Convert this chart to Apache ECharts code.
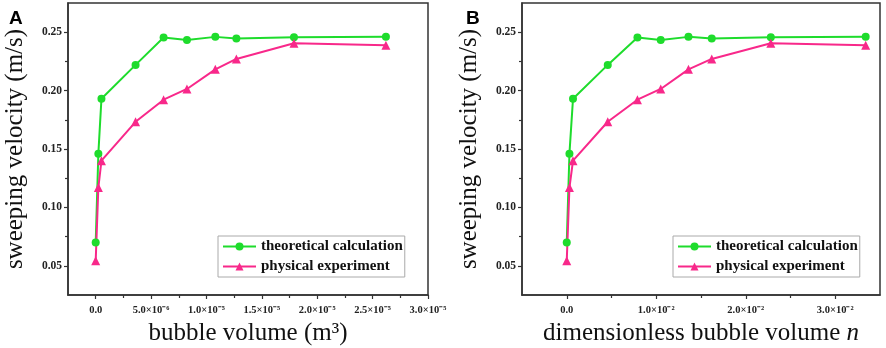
<!DOCTYPE html>
<html>
<head>
<meta charset="utf-8">
<script src="https://cdn.jsdelivr.net/npm/echarts@6/dist/echarts.min.js"></script>
<style>
  html, body { margin: 0; padding: 0; background: #fff; }
  #main { width: 886px; height: 348px; }
</style>
</head>
<body>
<div id="main"></div>
<script>
// data
var volumeA = [0, 2.4e-7, 5.2e-7, 3.6e-6, 6.13e-6, 8.24e-6, 1.08e-5, 1.27e-5, 1.79e-5, 2.62e-5];
var volumeB = [0, 0.0003, 0.0007, 0.00458, 0.0079, 0.0105, 0.0136, 0.0162, 0.0228, 0.0334];
var theoretical = [0.070, 0.146, 0.193, 0.222, 0.2454, 0.2434, 0.246, 0.2446, 0.2457, 0.246];
var experiment = [0.0543, 0.117, 0.140, 0.1733, 0.1922, 0.2014, 0.2182, 0.2271, 0.2406, 0.2388];

var yTicks = [0.05, 0.10, 0.15, 0.20, 0.25];
var yTickLabels = ['0.05', '0.10', '0.15', '0.20', '0.25'];
var yMinor = [0.075, 0.125, 0.175, 0.225];

var xTicksA = [0, 5e-6, 1e-5, 1.5e-5, 2e-5, 2.5e-5, 3e-5];
var xTickLabelsA = ['0.0', '5.0×10⁻⁶', '1.0×10⁻⁵', '1.5×10⁻⁵', '2.0×10⁻⁵', '2.5×10⁻⁵', '3.0×10⁻⁵'];
var xMinorA = [2.5e-6, 7.5e-6, 1.25e-5, 1.75e-5, 2.25e-5, 2.75e-5];

var xTicksB = [0, 0.01, 0.02, 0.03];
var xTickLabelsB = ['0.0', '1.0×10⁻²', '2.0×10⁻²', '3.0×10⁻²'];
var xMinorB = [0.005, 0.015, 0.025];

var green = '#1edc2c';
var pink = '#f8288a';
var axisColor = '#333';
var serif = 'Liberation Serif';

function pairs(xs, ys) {
  return xs.map(function (x, i) { return [x, ys[i]]; });
}

function labelFor(ticks, labels) {
  return function (v) {
    for (var i = 0; i < ticks.length; i++) {
      if (Math.abs(ticks[i] - v) < Math.abs(ticks[1] - ticks[0]) * 1e-3) return labels[i];
    }
    return '';
  };
}

function xMain(gridIndex, min, max, ticks, labels, name) {
  return {
    type: 'value', gridIndex: gridIndex, min: min, max: max, position: 'bottom',
    splitLine: { show: false },
    axisLine: { onZero: false, lineStyle: { color: axisColor, width: 1.5 } },
    axisTick: { customValues: ticks, length: 4, lineStyle: { color: axisColor, width: 1.2 } },
    axisLabel: {
      customValues: ticks, formatter: labelFor(ticks, labels),
      fontFamily: serif, fontWeight: 'bold', fontSize: 10.5, color: '#222', margin: 10
    },
    name: name, nameLocation: 'middle', nameGap: 26,
    nameTextStyle: {
      fontFamily: serif, fontSize: 25, color: '#111',
      rich: { it: { fontFamily: serif, fontSize: 25, fontStyle: 'italic', color: '#111' } }
    }
  };
}

function xMinorAxis(gridIndex, min, max, ticks) {
  return {
    type: 'value', gridIndex: gridIndex, min: min, max: max, position: 'bottom',
    splitLine: { show: false },
    axisLine: { show: false, onZero: false },
    axisTick: { customValues: ticks, length: 3, lineStyle: { color: axisColor, width: 1.2 } },
    axisLabel: { show: false }
  };
}

function yMain(gridIndex) {
  return {
    type: 'value', gridIndex: gridIndex, min: 0.025, max: 0.275, position: 'left',
    splitLine: { show: false },
    axisLine: { onZero: false, lineStyle: { color: axisColor, width: 1.5 } },
    axisTick: { customValues: yTicks, length: 4, lineStyle: { color: axisColor, width: 1.2 } },
    axisLabel: {
      customValues: yTicks, formatter: labelFor(yTicks, yTickLabels),
      fontFamily: serif, fontWeight: 'bold', fontSize: 11.5, color: '#222', margin: 6
    },
    name: 'sweeping velocity (m/s)', nameLocation: 'middle', nameGap: 40,
    nameTextStyle: { fontFamily: serif, fontSize: 25, color: '#111' }
  };
}

function yMinorAxis(gridIndex) {
  return {
    type: 'value', gridIndex: gridIndex, min: 0.025, max: 0.275, position: 'left',
    splitLine: { show: false },
    axisLine: { show: false, onZero: false },
    axisTick: { customValues: yMinor, length: 3, lineStyle: { color: axisColor, width: 1.2 } },
    axisLabel: { show: false }
  };
}

function lineSeries(name, xi, yi, data, color, symbol, size) {
  return {
    name: name, type: 'line', xAxisIndex: xi, yAxisIndex: yi,
    data: data, symbol: symbol, symbolSize: size,
    lineStyle: { color: color, width: 2 },
    itemStyle: { color: color },
    animation: false
  };
}

function legendAt(left) {
  return {
    left: left, top: 236, orient: 'vertical',
    data: ['theoretical calculation', 'physical experiment'],
    itemWidth: 33, itemHeight: 10, itemGap: 5, padding: [3, 2, 3, 4],
    borderColor: '#aaa', borderWidth: 1, borderRadius: 0,
    textStyle: { fontFamily: serif, fontWeight: 'bold', fontSize: 15, color: '#111' }
  };
}

var chart = echarts.init(document.getElementById('main'));

var option = {
  backgroundColor: '#fff',
  animation: false,
  title: [
    { text: 'A', left: 4, top: 4, textStyle: { fontFamily: 'Liberation Sans', fontWeight: 'bold', fontSize: 19, color: '#000' } },
    { text: 'B', left: 461, top: 4, textStyle: { fontFamily: 'Liberation Sans', fontWeight: 'bold', fontSize: 19, color: '#000' } }
  ],
  grid: [
    { left: 68, top: 3, width: 360, height: 292, show: true, borderColor: axisColor, borderWidth: 1.5, backgroundColor: 'transparent', containLabel: false, outerBoundsMode: 'none' },
    { left: 522, top: 3, width: 358, height: 292, show: true, borderColor: axisColor, borderWidth: 1.5, backgroundColor: 'transparent', containLabel: false, outerBoundsMode: 'none' }
  ],
  xAxis: [
    xMain(0, -2.5e-6, 3e-5, xTicksA, xTickLabelsA, 'bubble volume (m³)'),
    xMinorAxis(0, -2.5e-6, 3e-5, xMinorA),
    xMain(1, -0.005, 0.035, xTicksB, xTickLabelsB, 'dimensionless bubble volume {it|n}'),
    xMinorAxis(1, -0.005, 0.035, xMinorB)
  ],
  yAxis: [yMain(0), yMinorAxis(0), yMain(1), yMinorAxis(1)],
  legend: [legendAt(218), legendAt(673)],
  series: [
    lineSeries('theoretical calculation', 0, 0, pairs(volumeA, theoretical), green, 'circle', 8),
    lineSeries('physical experiment', 0, 0, pairs(volumeA, experiment), pink, 'triangle', 9),
    lineSeries('theoretical calculation', 2, 2, pairs(volumeB, theoretical), green, 'circle', 8),
    lineSeries('physical experiment', 2, 2, pairs(volumeB, experiment), pink, 'triangle', 9)
  ]
};

chart.setOption(option);
</script>
</body>
</html>
